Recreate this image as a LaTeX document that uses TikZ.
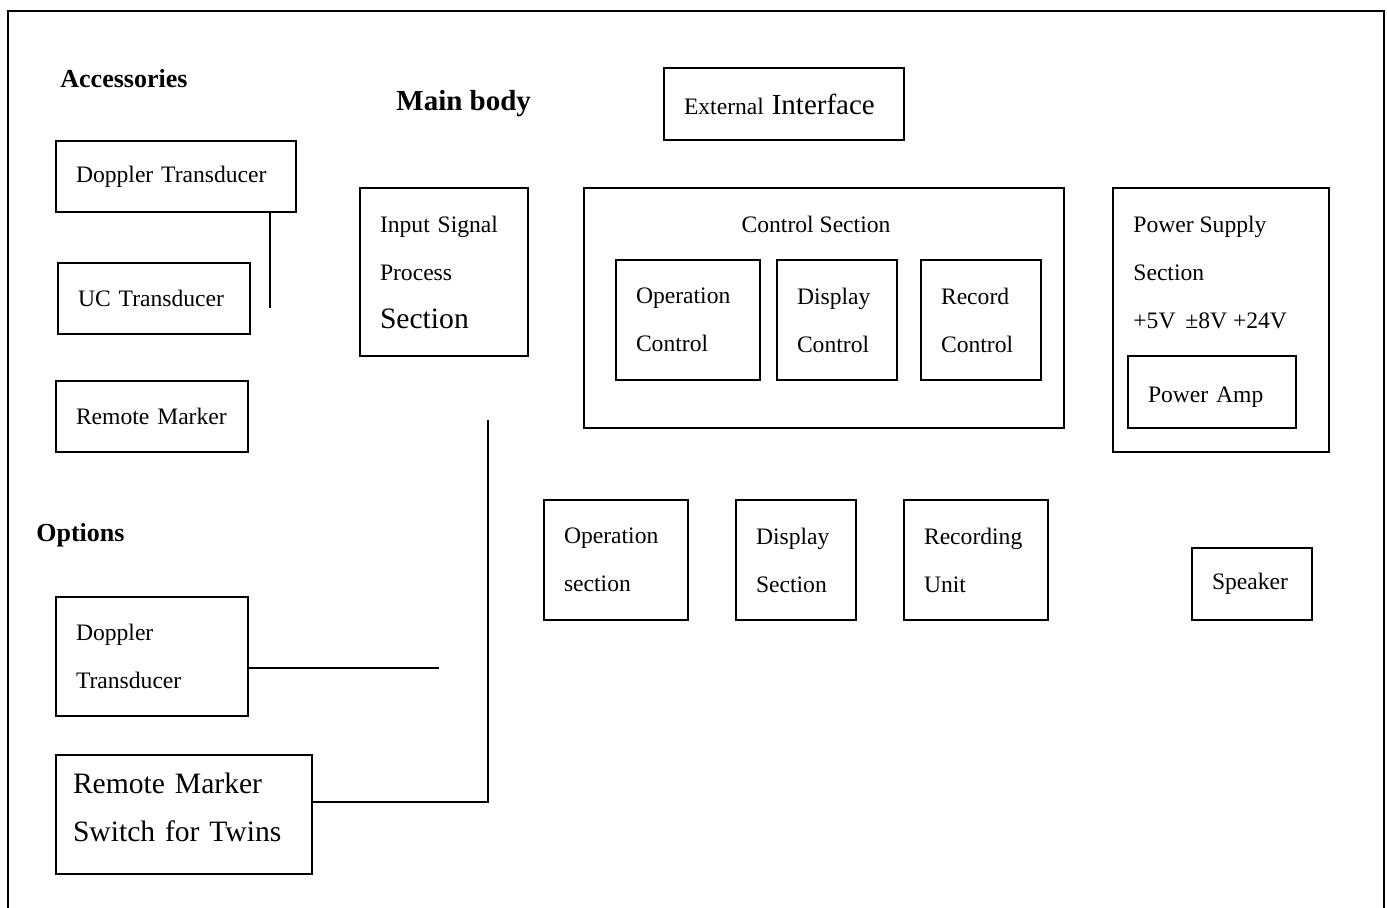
\documentclass[tikz,border=0pt]{standalone}
\usepackage{fontspec}
\setmainfont{Liberation Serif}
\usepackage{tikz}
\usetikzlibrary{positioning,calc}
\newcommand{\boxfont}{\fontsize{11.8pt}{24pt}\selectfont}
\newcommand{\bigboxfont}{\fontsize{14.8pt}{24pt}\selectfont}
\newcommand{\headfont}{\fontsize{13pt}{16pt}\selectfont\bfseries}

\begin{document}
\begin{tikzpicture}[
  x=0.5pt, y=-0.5pt,
  unit/.style={draw,line width=1pt,inner xsep=10pt,inner ysep=0pt,text width=#1,align=left,font=\boxfont},
  holder/.style={draw,line width=1pt,inner sep=0pt},
  head/.style={anchor=west,inner sep=0pt,font=\headfont},
  caption/.style={inner sep=0pt,align=left,font=\boxfont},
  link/.style={line width=1pt}
]
\useasboundingbox (0,0) rectangle (1387,908);
\draw[link] (8,908) -- (8,11) -- (1384,11) -- (1384,908);

% accessories
\node[head] (acc) at (60,79) {Accessories};
\node[unit=100pt,minimum height=35.5pt] (dop) at (176,176.5) {Doppler Transducer};
\node[unit=76pt,minimum height=35.5pt] (uc) at (154,298.5) {UC Transducer};
\node[unit=76pt,minimum height=35.5pt] (rmk) at (152,416.5) {Remote Marker};
\coordinate (dopend) at (270,308);
\draw[link] (dop.south -| dopend) -- (dopend);

% main body
\node[head,font=\fontsize{14.5pt}{16pt}\selectfont\bfseries] (mainb) at (396,104) {Main body};
\node[unit=64pt,minimum height=84pt] (isp) at (444,272) {Input Signal\\Process\\{\bigboxfont Section}};
\node[unit=100pt,minimum height=36pt] (ext) at (784,104) {External {\fontsize{14.5pt}{24pt}\selectfont Interface}};

\node[holder,minimum width=240pt,minimum height=120pt] (ctl) at (824,308) {};
\node[caption] (ctitle) at (816,224) {Control Section};
\node[unit=52pt,minimum height=60pt] (opc) at (688,320) {Operation\\Control};
\node[unit=40pt,minimum height=60pt,right=7.5pt of opc] (dpc) {Display\\Control};
\node[unit=40pt,minimum height=60pt,right=11pt of dpc] (rcc) {Record\\Control};

\node[holder,minimum width=108pt,minimum height=132pt] (pws) at (1221,320) {};
\node[caption,anchor=west] (pwstxt) at (1133,272) {Power Supply\\Section\\+5V \,±8V +24V};
\node[unit=64pt,minimum height=36pt,text height=10.5pt,text depth=0pt] (pamp) at (1212,392) {Power Amp};

\node[unit=52pt,minimum height=60pt] (opsec) at (616,560) {Operation\\section};
\node[unit=40pt,minimum height=60pt,right=23pt of opsec] (dsec) {Display\\Section};
\node[unit=52pt,minimum height=60pt,right=23pt of dsec] (runit) {Recording\\Unit};
\node[unit=40pt,minimum height=36pt] (spk) at (1252,584) {Speaker};

% options
\node[head] (opts) at (36,535) {Options};
\node[unit=76pt,minimum height=59.5pt] (optdop) at (152,656.5) {Doppler\\Transducer};
\node[unit=111pt,inner xsep=8.5pt,minimum height=59.5pt,text depth=31pt,font=\bigboxfont] (rms) at (184,814.5) {Remote Marker\\Switch for Twins};
\coordinate (optend) at (439,668);
\coordinate (rmsbend) at (488,802);
\coordinate (rmsend) at (488,420);
\draw[link] (optdop.east |- optend) -- (optend);
\draw[link] (rms.east |- rmsbend) -- (rmsbend) -- (rmsend);
\end{tikzpicture}
\end{document}
